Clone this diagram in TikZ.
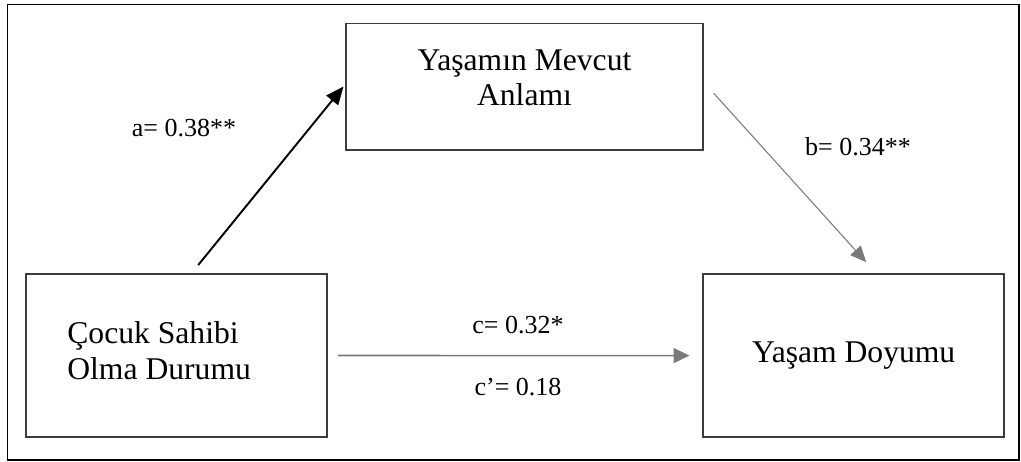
\documentclass[tikz,border=0pt]{standalone}
\usepackage{fontspec}
\setmainfont{Liberation Serif}
\usepackage{xcolor}
\usepackage{tikz}
\usetikzlibrary{positioning,arrows.meta}
\definecolor{boxline}{HTML}{3C3C3C}
\definecolor{grayline}{HTML}{7A7A7A}
\tikzset{
    varbox/.style={
        draw=boxline, line width=1.1pt,
        font=\fontsize{18}{20.5}\selectfont, align=center
    },
    boxtext/.style={
        font=\fontsize{18}{20.5}\selectfont, inner sep=0pt
    },
    coef/.style={
        font=\fontsize{14.8}{17}\selectfont
    },
    patha/.style={-{Triangle[length=0.36cm,width=0.3cm]}, line width=1.1pt, color=black},
    pathb/.style={-{Triangle[length=0.32cm,width=0.28cm]}, line width=0.6pt, color=grayline},
    pathc/.style={-{Triangle[length=0.32cm,width=0.3cm]}, line width=0.9pt, color=grayline},
}

\begin{document}
\begin{tikzpicture}[x=0.02cm, y=-0.02cm]
        \useasboundingbox (0,0) rectangle (1021,461);
        \draw[line width=1.1pt] (7.5,4.5) rectangle (1019,460);
        \node[varbox, minimum width=7.15cm, minimum height=2.53cm,
            label={[name=meantxt, boxtext, font=\fontsize{18}{19.9}\selectfont, align=center, yshift=0.18cm]center:Yaşamın Mevcut\\Anlamı}] (mean) at (524.5,86.7) {};
        \node[varbox, minimum width=6.03cm, minimum height=3.26cm,
            label={[name=childtxt, boxtext, align=left, anchor=west, xshift=0.84cm, yshift=0.1cm]west:Çocuk Sahibi\\Olma Durumu}] (child) at (176.7,355.5) {};
        \node[varbox, minimum width=6.03cm, minimum height=3.26cm] (satis) at (853.7,355.6) {Yaşam Doyumu};
        \node[coef] (alab) at (184,128) {a= 0.38**};
        \node[coef] (blab) at (858,147) {b= 0.34**};
        \node[coef] (clab) at (518,325) {c= 0.32*};
        \node[coef] (cplab) at (518,387) {c’= 0.18};
        \draw[patha, shorten >=-2pt] ([xshift=0.43cm, yshift=0.16cm]child.north) -- ([xshift=-0.07cm, yshift=-0.05cm]mean.west);
        \draw[pathb] ([xshift=0.19cm, yshift=-0.13cm]mean.east) -- ([xshift=0.25cm, yshift=0.22cm]satis.north);
        \draw[pathc] ([xshift=0.19cm]child.east) -- ([xshift=-0.25cm]satis.west);
    \end{tikzpicture}
\end{document}
